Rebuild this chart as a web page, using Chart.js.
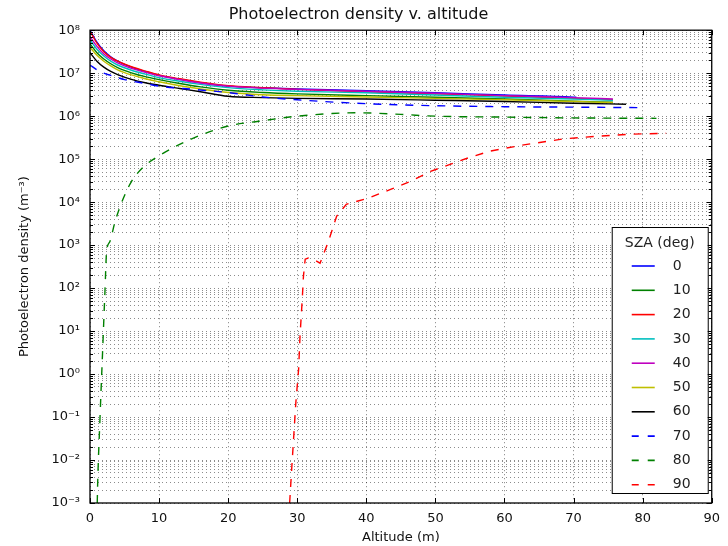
<!DOCTYPE html>
<html>
<head>
<meta charset="utf-8">
<script src="https://cdn.jsdelivr.net/npm/chart.js@4.4.1/dist/chart.umd.min.js"></script>
<style>
  html, body { margin: 0; padding: 0; background: #fff; }
</style>
</head>
<body>
<canvas id="chart" width="728" height="546"></canvas>
<script>
const FONT = "'DejaVu Sans', sans-serif";

// solar zenith angles, one curve each
const SZA = [0, 10, 20, 30, 40, 50, 60, 70, 80, 90];
const COLORS = ["#0000ff", "#008000", "#ff0000", "#00bfbf", "#bf00bf", "#bfbf00", "#000000", "#0000ff", "#008000", "#ff0000"];

// altitude grid (m) shared by the solid curves, last point differs per curve
const ALT_SOLID = [0, 1, 2, 3, 4, 6, 8, 10, 13, 16, 20, 25, 30, 40, 50, 60, 70];
const END_ALT = [70.4, 75.7, 75.7, 75.7, 75.7, 75.7, 77.6];

// photoelectron density (m^-3)
const DENS_SZA0 = [1.0e8, 5.25e7, 3.31e7, 2.40e7, 1.91e7, 1.38e7, 1.10e7, 8.9e6, 7.2e6, 6.0e6, 5.0e6, 4.6e6, 4.3e6, 3.9e6, 3.5e6, 3.1e6, 2.78e6, 2.75e6];
const DENS_SZA10 = [4.8e7, 3.0e7, 2.14e7, 1.66e7, 1.35e7, 1.02e7, 8.3e6, 7.1e6, 5.75e6, 4.8e6, 4.0e6, 3.55e6, 3.3e6, 3.0e6, 2.75e6, 2.5e6, 2.24e6, 2.1e6];
const DENS_SZA20 = [9.5e7, 5.0e7, 3.16e7, 2.34e7, 1.9e7, 1.41e7, 1.12e7, 9.1e6, 7.4e6, 6.2e6, 5.1e6, 4.6e6, 4.2e6, 3.7e6, 3.3e6, 2.95e6, 2.6e6, 2.4e6];
const DENS_SZA30 = [6.0e7, 3.6e7, 2.5e7, 1.9e7, 1.55e7, 1.17e7, 9.5e6, 7.9e6, 6.5e6, 5.5e6, 4.6e6, 4.1e6, 3.8e6, 3.5e6, 3.1e6, 2.75e6, 2.5e6, 2.35e6];
const DENS_SZA40 = [7.1e7, 4.2e7, 2.8e7, 2.14e7, 1.74e7, 1.29e7, 1.05e7, 8.7e6, 7.1e6, 5.9e6, 5.0e6, 4.5e6, 4.2e6, 3.8e6, 3.4e6, 3.0e6, 2.7e6, 2.5e6];
const DENS_SZA50 = [4.0e7, 2.6e7, 1.9e7, 1.48e7, 1.2e7, 9.1e6, 7.4e6, 6.3e6, 5.1e6, 4.3e6, 3.55e6, 3.16e6, 3.0e6, 2.8e6, 2.6e6, 2.4e6, 2.2e6, 2.05e6];
const DENS_SZA60 = [3.0e7, 1.9e7, 1.38e7, 1.1e7, 9.3e6, 7.2e6, 6.0e6, 5.25e6, 4.4e6, 3.7e6, 2.9e6, 2.7e6, 2.6e6, 2.5e6, 2.35e6, 2.2e6, 2.0e6, 1.9e6];

const ALT_SZA70 = [0, 1, 2, 3, 5, 8, 10, 15, 20, 25, 30, 40, 50, 60, 70, 80];
const DENS_SZA70 = [1.55e7, 1.2e7, 1.0e7, 8.9e6, 7.1e6, 5.75e6, 5.0e6, 4.2e6, 3.55e6, 2.8e6, 2.4e6, 1.95e6, 1.75e6, 1.66e6, 1.62e6, 1.58e6];

const ALT_SZA80 = [1.05, 1.1, 1.44, 1.82, 2.06, 2.16, 2.4, 2.87, 3.6, 4.8, 6.0, 7.7, 10, 14.8, 20, 24.4, 30, 35, 38.4, 45, 50, 60, 70, 82];
const DENS_SZA80 = [1e-3, 2.5e-3, 0.089, 3.2, 32, 80, 690, 1.2e3, 3.4e3, 1.2e4, 3.0e4, 6.5e4, 1.2e5, 3.0e5, 5.9e5, 7.6e5, 1.0e6, 1.15e6, 1.2e6, 1.1e6, 1.0e6, 9.5e5, 9.1e5, 8.9e5];

const ALT_SZA90 = [28.9, 29.2, 29.8, 30.2, 30.4, 30.7, 30.9, 31.15, 31.6, 32.5, 33.3, 34.5, 35.7, 37.1, 40.2, 43.6, 46.5, 49.3, 54.6, 58, 62.8, 68.5, 73.3, 78.1, 83.4];
const DENS_SZA90 = [1e-3, 6.3e-3, 0.22, 1.3, 7.6, 47, 190, 470, 500, 450, 380, 1.2e3, 4.7e3, 8.9e3, 1.23e4, 2.0e4, 3.1e4, 5.2e4, 1.05e5, 1.55e5, 2.15e5, 2.95e5, 3.4e5, 3.8e5, 4.0e5];

// axis ranges
const X_TICKS = [0, 10, 20, 30, 40, 50, 60, 70, 80, 90];
const Y_MIN_EXP = -3;
const Y_MAX_EXP = 8;

const solidAlt = (i) => ALT_SOLID.concat([END_ALT[i]]);
const ALTS = [solidAlt(0), solidAlt(1), solidAlt(2), solidAlt(3), solidAlt(4), solidAlt(5), solidAlt(6), ALT_SZA70, ALT_SZA80, ALT_SZA90];
const DENS = [DENS_SZA0, DENS_SZA10, DENS_SZA20, DENS_SZA30, DENS_SZA40, DENS_SZA50, DENS_SZA60, DENS_SZA70, DENS_SZA80, DENS_SZA90];

const SUP = { "-": "\u207b", "0": "\u2070", "1": "\u00b9", "2": "\u00b2", "3": "\u00b3", "4": "\u2074", "5": "\u2075", "6": "\u2076", "7": "\u2077", "8": "\u2078", "9": "\u2079" };
const sup = (n) => String(n).split("").map((c) => SUP[c]).join("");

// decade ticks plus 2..9 minor ticks for the log axis
const yTicks = [];
for (let e = Y_MIN_EXP; e <= Y_MAX_EXP; e++) {
  for (let m = 1; m <= 9; m++) {
    if (e === Y_MAX_EXP && m > 1) break;
    yTicks.push({ value: m * Math.pow(10, e), major: m === 1, exp: e });
  }
}

const datasets = SZA.map((s, i) => ({
  label: String(s),
  data: ALTS[i].map((a, j) => ({ x: a, y: DENS[i][j] })),
  borderColor: COLORS[i],
  backgroundColor: COLORS[i],
  borderWidth: 1.4,
  borderDash: i >= 7 ? [8, 8] : [],
  pointRadius: 0,
  fill: false,
  cubicInterpolationMode: i === 9 ? "default" : "monotone",
  order: SZA.length - i,
}));

// black frame with inward ticks on all four sides
const frameTicks = {
  id: "frameTicks",
  afterDatasetsDraw(chart) {
    const { ctx, chartArea: a, scales: { x, y } } = chart;
    ctx.save();
    ctx.strokeStyle = "#000";
    ctx.lineWidth = 1;
    ctx.beginPath();
    y.ticks.forEach((t) => {
      const py = Math.round(y.getPixelForValue(t.value)) + 0.5;
      const len = t.major ? 5 : 3;
      ctx.moveTo(a.left, py); ctx.lineTo(a.left + len, py);
      ctx.moveTo(a.right, py); ctx.lineTo(a.right - len, py);
    });
    x.ticks.forEach((t) => {
      const px = Math.round(x.getPixelForValue(t.value)) + 0.5;
      ctx.moveTo(px, a.bottom); ctx.lineTo(px, a.bottom - 5);
      ctx.moveTo(px, a.top); ctx.lineTo(px, a.top + 5);
    });
    ctx.stroke();
    ctx.lineWidth = 1.3;
    ctx.strokeRect(a.left, a.top, a.right - a.left, a.bottom - a.top);
    ctx.restore();
  },
};

// legend box in the lower right corner of the plot
const szaLegend = {
  id: "szaLegend",
  afterDraw(chart) {
    const { ctx, chartArea: a } = chart;
    const right = a.right - 4, bottom = a.bottom - 10;
    const w = 96, h = 266;
    const left = right - w, top = bottom - h;
    ctx.save();
    ctx.fillStyle = "#fff";
    ctx.fillRect(left, top, w, h);
    ctx.strokeStyle = "#000";
    ctx.lineWidth = 1;
    ctx.strokeRect(left + 0.5, top + 0.5, w, h);
    ctx.fillStyle = "#222";
    ctx.font = "14px " + FONT;
    ctx.textAlign = "center";
    ctx.textBaseline = "middle";
    ctx.fillText("SZA (deg)", left + w / 2, top + 16);
    ctx.textAlign = "left";
    chart.data.datasets.forEach((ds, i) => {
      const py = top + 39 + i * 24.3;
      ctx.strokeStyle = ds.borderColor;
      ctx.lineWidth = 1.6;
      ctx.setLineDash(ds.borderDash.length ? [7, 9] : []);
      ctx.beginPath();
      ctx.moveTo(left + 20, py);
      ctx.lineTo(left + 43, py);
      ctx.stroke();
      ctx.fillText(ds.label, left + 61, py);
    });
    ctx.restore();
  },
};

new Chart(document.getElementById("chart"), {
  type: "line",
  data: { datasets },
  options: {
    responsive: false,
    animation: false,
    layout: { padding: { left: 0, top: 0, right: 11, bottom: 0 } },
    plugins: {
      legend: { display: false },
      tooltip: { enabled: false },
      title: {
        display: true,
        text: "Photoelectron density v. altitude",
        color: "#111",
        font: { family: FONT, size: 16, weight: "normal" },
        padding: { top: 5, bottom: 6 },
      },
    },
    scales: {
      x: {
        type: "linear",
        min: 0,
        max: 90,
        afterFit: (s) => { s.height = 43; },
        afterBuildTicks: (s) => { s.ticks = X_TICKS.map((v) => ({ value: v })); },
        ticks: { color: "#111", font: { family: FONT, size: 13 }, padding: 8, maxRotation: 0, autoSkip: false },
        grid: { color: "rgba(0,0,0,0.5)", lineWidth: 1, drawTicks: false },
        border: { display: false, dash: [1, 3] },
        title: { display: true, text: "Altitude (m)", color: "#111", font: { family: FONT, size: 13 }, padding: { top: 0, bottom: 1 } },
      },
      y: {
        type: "logarithmic",
        min: Math.pow(10, Y_MIN_EXP),
        max: Math.pow(10, Y_MAX_EXP),
        afterFit: (s) => { s.width = 90; },
        afterBuildTicks: (s) => { s.ticks = yTicks.map((t) => ({ value: t.value, major: t.major, exp: t.exp })); },
        ticks: {
          color: "#111",
          font: { family: FONT, size: 13 },
          padding: 10,
          autoSkip: false,
          callback: (v, i, ticks) => (ticks[i].major ? "10" + sup(ticks[i].exp) : ""),
        },
        grid: { color: "rgba(0,0,0,0.45)", lineWidth: 1, drawTicks: false },
        border: { display: false, dash: [1, 3] },
        title: { display: true, text: "Photoelectron density (m\u207b\u00b3)", color: "#111", font: { family: FONT, size: 13 }, padding: { top: 17, bottom: 0 } },
      },
    },
  },
  plugins: [frameTicks, szaLegend],
});
</script>
</body>
</html>
